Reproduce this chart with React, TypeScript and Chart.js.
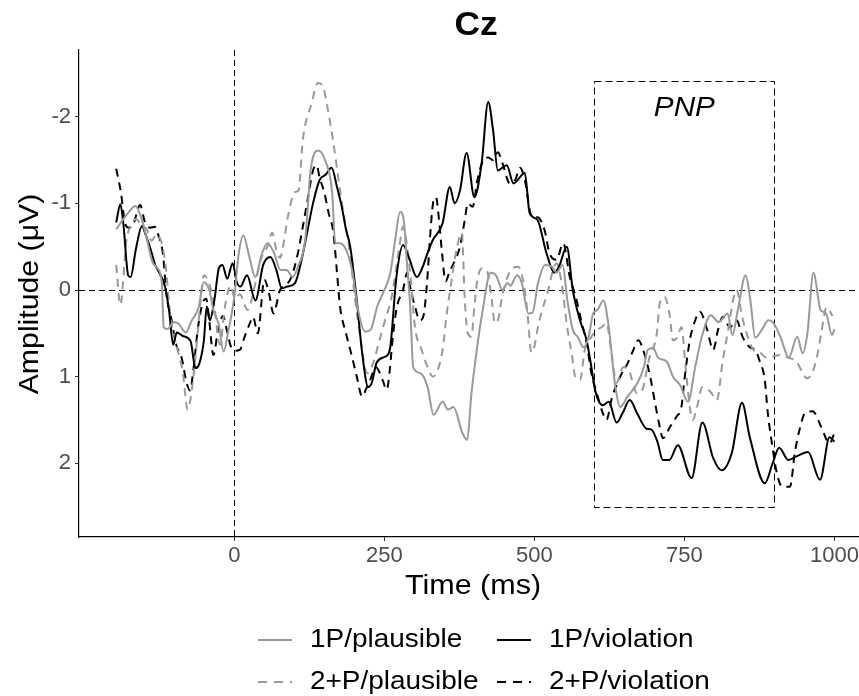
import React, { useEffect, useRef } from "react";
import { Chart, registerables } from "chart.js";

Chart.register(...registerables);

// ---- data (time in ms, amplitude in µV) ----
const plaus1PTime = [-197,-187,-176,-165,-156,-147,-137,-128,-121,-118,-111,-101,-93,-81,-71,-60,-51,-42,-35,-26,-18,-10,0,7,15,25,35,45,55,66,77,87,97,106,118,127,140,151,163,168,176,187,197,205,218,227,238,248,260,268,276,282,288,293,298,310,322,332,347,356,365,380,388,395,404,413,427,436,447,455,460,471,479,490,497,506,518,529,537,547,555,564,572,582,590,598,605,615,623,635,643,655,672,682,689,698,706,721,731,743,756,768,779,794,807,822,830,839,852,860,868,879,890,898,910,924,938,947,955,965,977,986,996,1000];
const plaus1PAmp = [-0.7,-0.8,-0.9,-0.97,-0.85,-0.62,-0.33,-0.25,-0.09,0.43,0.45,0.37,0.39,0.49,0.35,0.21,-0.09,0.0,0.23,0.4,0.71,0.47,0.07,-0.41,-0.63,-0.38,-0.15,-0.4,-0.54,-0.43,-0.23,-0.23,-0.15,-0.27,-0.58,-1.38,-1.61,-1.5,-1.12,-0.54,-0.54,-0.45,-0.2,0.19,0.48,0.46,0.19,0.03,-0.2,-0.58,-0.9,-0.82,-0.27,0.19,0.89,0.96,1.12,1.44,1.29,1.38,1.35,1.65,1.73,1.2,0.69,0.27,-0.2,-0.17,0,-0.08,-0.05,-0.17,-0.08,0.27,0.26,-0.08,-0.29,-0.27,-0.2,-0.29,0.12,0.46,0.54,0.66,0.55,0.27,0.23,0.12,0.38,1.12,1.35,1.23,1.07,0.9,0.69,0.67,0.78,0.83,1.0,1.1,1.29,0.89,0.54,0.29,0.37,0.27,0.52,0.23,-0.17,0.12,0.55,0.46,0.35,0.38,0.54,0.78,0.54,0.73,0.5,-0.2,0.23,0.27,0.52,0.45];

const viol1PTime = [-197,-190,-185,-177,-173,-164,-154,-148,-140,-132,-126,-116,-109,-102,-96,-86,-73,-65,-59,-51,-46,-41,-33,-26,-20,-12,-3,4,10,21,35,48,60,70,79,88,101,112,122,131,142,152,162,171,179,186,193,204,213,223,229,237,251,259,270,281,292,304,314,322,331,347,359,367,376,387,400,412,423,431,439,454,465,484,492,505,520,533,541,554,564,576,587,595,601,614,624,637,647,659,671,687,695,705,714,725,739,762,780,798,812,829,846,859,884,897,908,923,937,956,976,992,1000];
const viol1PAmp = [-0.78,-0.99,-0.76,-0.17,-0.15,-0.48,-0.74,-0.64,-0.48,-0.29,-0.21,-0.05,0.23,0.63,0.49,0.53,0.59,0.9,0.86,0.59,0.19,0.35,0.1,-0.25,-0.29,-0.13,-0.31,-0.09,-0.04,-0.17,0.12,-0.29,-0.38,-0.23,-0.02,-0.04,-0.08,-0.35,-0.69,-1.0,-1.27,-1.33,-1.41,-1.19,-0.96,-0.7,-0.5,0.12,0.73,1.12,1.07,0.84,0.77,0.69,-0.15,-0.52,-0.35,-0.15,-0.27,-0.43,-0.58,-0.77,-1.19,-1.0,-1.15,-1.58,-1.07,-1.46,-2.17,-1.85,-1.38,-1.44,-1.23,-1.35,-0.89,-0.81,-0.43,-0.2,-0.27,-0.5,0,0.35,0.58,0.89,1.15,1.33,1.29,1.53,1.42,1.27,1.42,1.6,1.61,1.75,1.96,1.96,1.79,2.17,1.53,1.94,2.08,1.88,1.3,1.7,2.23,2.0,1.82,1.96,1.92,1.87,2.19,1.7,1.75];

const plaus2PTime = [-197,-190,-180,-171,-164,-155,-146,-138,-130,-119,-113,-108,-102,-94,-86,-78,-70,-63,-56,-51,-43,-35,-24,-16,-6,1,9,22,34,44,55,63,70,76,81,89,101,107,114,129,139,147,155,165,173,181,191,201,211,221,231,241,251,262,275,281,288,294,301,312,322,331,339,347,354,364,370,379,384,389,395,400,405,413,421,429,434,440,446,455,464,473,484,489,495,500,505,513,522,531,537,546,554,563,568,576,584,594,604,612,620,628,637,648,657,671,680,691,704,709,717,725,731,738,745,752,759,764,771,780,793,804,814,823,831,837,846,856,866,876,886,897,909,923,937,946,954,964,971,978,987,997];
const plaus2PAmp = [-0.29,0.17,-0.57,-0.76,-0.82,-0.75,-0.7,-0.57,-0.64,-0.48,-0.17,0.23,0.47,0.71,0.95,1.38,1.1,0.63,0.1,-0.17,-0.09,0.11,0.63,0.2,-0.05,0.1,0.05,0.23,-0.05,-0.35,-0.5,-0.66,-0.46,-0.37,-0.5,-0.84,-1.13,-1.15,-1.73,-2.16,-2.39,-2.36,-2.11,-1.7,-1.3,-0.92,-0.5,0.1,0.6,0.96,0.85,0.6,0.35,0.08,-0.5,-0.73,-0.5,-0.12,0.43,0.69,0.89,1.0,0.92,0.69,0.27,-0.2,-0.46,-0.66,0.12,0.5,0.54,0.19,-0.12,-0.25,-0.22,0.12,0.38,0.33,0.08,-0.15,-0.25,-0.27,0,0.31,0.72,0.65,0.46,0.23,0.03,-0.23,-0.31,-0.05,0.4,0.77,1.0,1.04,0.69,0.55,0.46,0.43,0.38,0.7,1.07,0.89,0.92,1.19,1.15,0.8,0.5,0.15,0.08,0.27,0.58,0.55,0.43,0.89,1.35,1.5,1.35,1.12,1.17,1.27,0.81,0.46,0.12,0.0,0.3,0.55,0.7,0.72,0.78,0.77,0.75,0.78,0.83,0.94,1.02,0.94,0.77,0.5,0.2,0.3];

const viol2PTime = [-197,-189,-182,-176,-169,-157,-149,-140,-133,-127,-119,-113,-106,-97,-88,-80,-74,-68,-61,-53,-47,-42,-35,-27,-19,-13,-6,1,9,17,26,31,39,50,58,65,76,85,95,105,114,122,131,137,142,150,157,165,171,176,186,196,204,213,219,226,236,247,254,259,264,271,281,288,294,301,309,315,321,326,331,336,341,346,352,358,370,376,384,389,397,405,415,423,431,439,447,459,468,476,484,496,505,517,525,537,548,559,569,579,587,595,604,614,620,629,643,655,665,673,684,693,701,709,714,726,737,745,750,759,768,776,788,798,806,814,826,837,847,859,868,875,884,889,895,904,913,926,934,943,951,964,978,992,1000];
const viol2PAmp = [-1.4,-1.12,-0.76,-0.72,-0.75,-0.98,-0.78,-0.72,-0.73,-0.64,-0.41,0.07,0.3,0.63,0.78,1.06,1.16,0.9,0.45,0.15,0.1,0.35,0.75,0.45,0.3,0.45,0.65,0.7,0.69,0.54,0.38,0.31,0.5,-0.12,0.05,0.27,0,-0.05,-0.15,-0.4,-0.73,-1.04,-1.38,-1.44,-1.3,-1.12,-0.89,-0.66,-0.2,0.19,0.5,0.77,1.0,1.23,1.15,1.04,0.89,1.04,1.15,0.92,0.54,0.19,0,-0.2,0.0,0.19,0.35,0.3,-0.08,-0.6,-1.0,-1.07,-0.81,-0.43,-0.1,-0.2,-0.38,-0.5,-0.81,-1.0,-0.96,-1.27,-1.5,-1.53,-1.5,-1.59,-1.46,-1.23,-1.27,-1.41,-1.27,-0.84,-0.84,-0.69,-0.43,-0.35,-0.54,-0.15,0.08,0.38,0.61,0.96,1.19,1.42,1.5,1.25,1.0,0.85,0.69,0.58,0.75,1.0,1.3,1.58,1.71,1.58,1.46,1.35,1.04,0.58,0.35,0.25,0.46,0.69,0.46,0.31,0.43,0.35,0.54,0.66,0.69,0.81,1.04,1.42,1.73,2.11,2.27,2.27,1.88,1.58,1.42,1.4,1.58,1.77,1.65];

const seriesLabels = ["1P/plausible", "1P/violation", "2+P/plausible", "2+P/violation"];
const xTickValues = [0, 250, 500, 750, 1000];
const yTickValues = [-2, -1, 0, 1, 2];
const pnpWindowMs = [600, 900];
const pnpWindowAmp = [-2.41, 2.5];
const pnpLabel = "PNP";
const pnpLabelPos = [750, -2.1];
const titleText = "Cz";
const xTitle = "Time (ms)";
const yTitle = "Amplitude (\u03bcV)";

const GRAY = "#999999";
const BLACK = "#000000";
const DASH = [8, 6];
const FONT = "'Liberation Sans', Arial, sans-serif";

const zip = (t: number[], v: number[]) => t.map((x, i) => ({ x, y: v[i] }));

const styles = [
  { color: GRAY, dash: [] as number[] },
  { color: BLACK, dash: [] as number[] },
  { color: GRAY, dash: DASH },
  { color: BLACK, dash: DASH },
];

function stretchText(ctx: any, text: string, x: number, y: number, sx: number, rot = 0) {
  ctx.save();
  ctx.translate(x, y);
  if (rot) ctx.rotate(rot);
  ctx.scale(sx, 1);
  ctx.fillText(text, 0, 0);
  ctx.restore();
}

const decorPlugin = {
  id: "decor",
  beforeDatasetsDraw(chart: any) {
    const { ctx, chartArea: ca, scales } = chart;
    const x = scales.x;
    const y = scales.y;
    ctx.save();
    ctx.strokeStyle = "#000";
    ctx.lineWidth = 1;
    ctx.setLineDash([6, 4]);
    const y0 = Math.round(y.getPixelForValue(0)) + 0.5;
    ctx.beginPath();
    ctx.moveTo(ca.left, y0);
    ctx.lineTo(ca.right, y0);
    ctx.stroke();
    const x0 = Math.round(x.getPixelForValue(0)) + 0.5;
    ctx.beginPath();
    ctx.moveTo(x0, ca.top);
    ctx.lineTo(x0, ca.bottom);
    ctx.stroke();
    const bx1 = Math.round(x.getPixelForValue(pnpWindowMs[0])) + 0.5;
    const bx2 = Math.round(x.getPixelForValue(pnpWindowMs[1])) + 0.5;
    const by1 = Math.round(y.getPixelForValue(pnpWindowAmp[0])) + 0.5;
    const by2 = Math.round(y.getPixelForValue(pnpWindowAmp[1])) + 0.5;
    ctx.setLineDash([7, 4]);
    ctx.strokeRect(bx1, by1, bx2 - bx1, by2 - by1);
    ctx.setLineDash([]);
    ctx.fillStyle = "#000";
    ctx.font = `italic 27px ${FONT}`;
    ctx.textAlign = "center";
    ctx.textBaseline = "middle";
    stretchText(ctx, pnpLabel, x.getPixelForValue(pnpLabelPos[0]), y.getPixelForValue(pnpLabelPos[1]), 1.1);
    ctx.restore();
  },
  afterDraw(chart: any) {
    const { ctx } = chart;
    ctx.save();
    ctx.fillStyle = "#000";
    ctx.textAlign = "center";
    ctx.textBaseline = "middle";
    ctx.font = `bold 34px ${FONT}`;
    stretchText(ctx, titleText, 476, 26, 1.04);
    ctx.font = `28px ${FONT}`;
    stretchText(ctx, xTitle, 473, 586, 1.09);
    stretchText(ctx, yTitle, 30, 294, 1.08, -Math.PI / 2);

    // legend 2x2
    const cols = [258, 497];
    const rows = [640, 682];
    ctx.font = `26px ${FONT}`;
    ctx.textAlign = "left";
    seriesLabels.forEach((lab, i) => {
      const cx = cols[i % 2];
      const cy = rows[Math.floor(i / 2)];
      const st = styles[i];
      ctx.strokeStyle = st.color;
      ctx.lineWidth = 2;
      ctx.setLineDash(st.dash.length ? [9, 7] : []);
      ctx.beginPath();
      ctx.moveTo(cx, cy);
      ctx.lineTo(cx + 34, cy);
      ctx.stroke();
      ctx.setLineDash([]);
      ctx.fillStyle = "#000";
      stretchText(ctx, lab, cx + 52, cy, 1.075);
    });
    ctx.restore();
  },
};

export default function App() {
  const ref = useRef<HTMLCanvasElement | null>(null);
  useEffect(() => {
    if (!ref.current) return;
    const series = [
      zip(plaus1PTime, plaus1PAmp),
      zip(viol1PTime, viol1PAmp),
      zip(plaus2PTime, plaus2PAmp),
      zip(viol2PTime, viol2PAmp),
    ];
    const chart = new Chart(ref.current, {
      type: "line",
      data: {
        datasets: series.map((d, i) => ({
          label: seriesLabels[i],
          data: d,
          borderColor: styles[i].color,
          borderDash: styles[i].dash,
          borderWidth: 2,
          pointRadius: 0,
          fill: false,
          cubicInterpolationMode: "monotone" as const,
        })),
      },
      options: {
        responsive: false,
        animation: false,
        layout: { padding: { top: 50, right: 5, left: 0, bottom: 0 } },
        plugins: {
          legend: { display: false },
          title: { display: false },
          tooltip: { enabled: false },
        },
        scales: {
          x: {
            type: "linear",
            min: -259,
            max: 1061,
            afterBuildTicks: (axis: any) => {
              axis.ticks = xTickValues.map((v) => ({ value: v }));
            },
            afterFit: (axis: any) => {
              axis.height = 159;
            },
            border: { display: true, color: "#000", width: 1.2 },
            grid: { drawOnChartArea: false, drawTicks: true, tickLength: 4, color: "#333" },
            ticks: {
              color: "#4D4D4D",
              font: { family: FONT, size: 22 },
              padding: 2,
              maxRotation: 0,
              autoSkip: false,
              callback: (v: any) => String(v),
            },
          },
          y: {
            type: "linear",
            reverse: true,
            min: -2.77,
            max: 2.85,
            afterBuildTicks: (axis: any) => {
              axis.ticks = yTickValues.map((v) => ({ value: v }));
            },
            afterFit: (axis: any) => {
              axis.width = 79;
            },
            border: { display: true, color: "#000", width: 1.2 },
            grid: { drawOnChartArea: false, drawTicks: true, tickLength: 4, color: "#333" },
            ticks: {
              color: "#4D4D4D",
              font: { family: FONT, size: 22 },
              padding: 4,
              autoSkip: false,
              callback: (v: any) => String(v),
            },
          },
        },
      },
      plugins: [decorPlugin],
    });
    return () => chart.destroy();
  }, []);

  return (
    <div style={{ position: "fixed", left: 0, top: 0, width: 859, height: 696, overflow: "hidden", background: "#fff" }}>
      <canvas ref={ref} width={876} height={696} style={{ display: "block", width: 876, height: 696 }} />
    </div>
  );
}
